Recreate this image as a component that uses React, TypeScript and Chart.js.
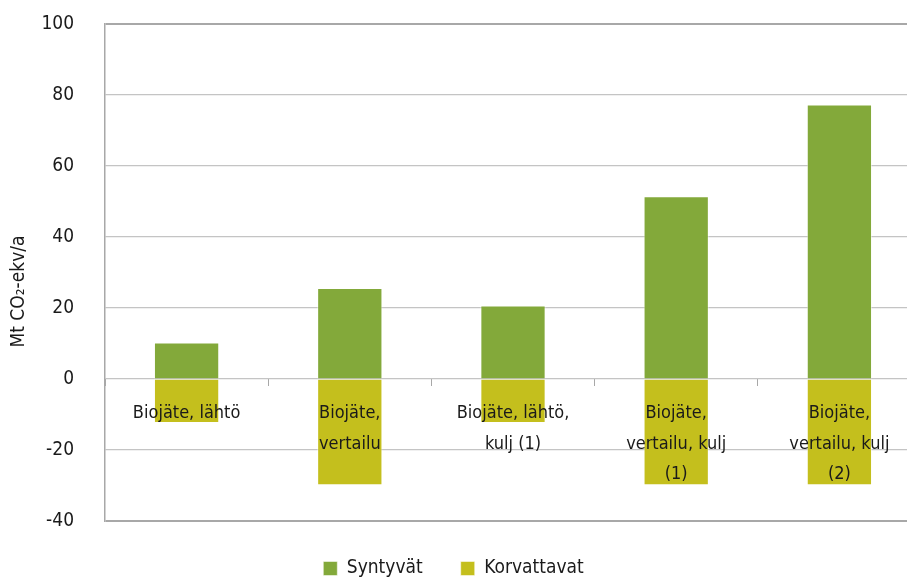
import React, { useEffect, useRef } from "react";
import { Chart, registerables } from "chart.js";

Chart.register(...registerables);

// Scenario categories (multi-line labels are split into arrays)
const categories: (string | string[])[] = [
  "Biojäte, lähtö",
  ["Biojäte,", "vertailu"],
  ["Biojäte, lähtö,", "kulj (1)"],
  ["Biojäte,", "vertailu, kulj", "(1)"],
  ["Biojäte,", "vertailu, kulj", "(2)"],
];

// Emissions generated (Mt CO2-eq/a)
const syntyvat = [10.3, 25.6, 20.7, 51.5, 77.3];
// Avoided / substituted emissions (Mt CO2-eq/a)
const korvattavat = [-12.4, -29.9, -12.4, -29.9, -29.9];

const seriesNames = ["Syntyvät", "Korvattavat"];
const yMin = -40;
const yMax = 100;
const yStep = 20;
const yTitle = "Mt CO₂-ekv/a";

const GREEN = "#83A93A";
const YELLOW = "#C4BF1D";
const GRID = "#c4c4c4";
const FRAME = "#a8a8a8";
const TEXT = "#1a1a1a";
const FONT = "'Liberation Sans Narrow', 'DejaVu Sans Condensed', 'Roboto Condensed', 'Noto Sans', sans-serif";

// Nudges the centred legend to the left so it sits under the visible page
const legendShift = {
  id: "legendShift",
  afterLayout(chart: any) {
    const lg = chart.legend;
    if (lg) {
      lg.left -= 7;
      lg.right -= 7;
    }
  },
};

export default function App() {
  const canvasRef = useRef<HTMLCanvasElement | null>(null);

  useEffect(() => {
    const canvas = canvasRef.current;
    if (!canvas) return;
    const chart = new Chart(canvas, {
      type: "bar",
      data: {
        labels: categories,
        datasets: [
          {
            label: seriesNames[0],
            data: syntyvat,
            backgroundColor: GREEN,
            borderColor: "rgba(255,255,255,0.5)",
            borderWidth: 1,
            barPercentage: 0.4,
            categoryPercentage: 1,
          },
          {
            label: seriesNames[1],
            data: korvattavat,
            backgroundColor: YELLOW,
            borderColor: "rgba(255,255,255,0.5)",
            borderWidth: 1,
            barPercentage: 0.4,
            categoryPercentage: 1,
          },
        ],
      },
      options: {
        animation: false,
        responsive: true,
        maintainAspectRatio: false,
        layout: { padding: { top: 24, right: 0, bottom: 0, left: 0 } },
        scales: {
          x: {
            stacked: true,
            position: { y: 0 } as any,
            afterFit(scale: any) {
              // the axis sits at zero inside the plot, so it needs no outer room
              scale.paddingTop = 0;
              scale.paddingBottom = 0;
            },
            border: { display: false },
            grid: {
              offset: true,
              drawOnChartArea: false,
              drawTicks: true,
              tickLength: 7,
              color: FRAME,
              lineWidth: 1,
            },
            ticks: {
              z: 1,
              color: TEXT,
              padding: 12,
              maxRotation: 0,
              autoSkip: false,
              font: { family: FONT, size: 18, lineHeight: 1.7 },
            },
          },
          y: {
            stacked: true,
            min: yMin,
            max: yMax,
            afterFit(scale: any) {
              scale.width = 105;
              scale.paddingTop = 0;
              scale.paddingBottom = 0;
            },
            border: { display: true, color: FRAME, width: 1.5 },
            grid: {
              drawTicks: false,
              color: (ctx: any) =>
                ctx.tick && (ctx.tick.value === yMax || ctx.tick.value === yMin) ? FRAME : GRID,
              lineWidth: (ctx: any) =>
                ctx.tick && (ctx.tick.value === yMax || ctx.tick.value === yMin) ? 2 : 1.2,
            },
            ticks: {
              stepSize: yStep,
              color: TEXT,
              padding: 31,
              font: { family: FONT, size: 19 },
            },
            title: {
              display: true,
              text: yTitle + "\u00A0".repeat(7),
              color: TEXT,
              padding: { top: 8, bottom: 0 },
              font: { family: FONT, size: 19, lineHeight: 1.2 },
            },
          },
        },
        plugins: {
          legend: {
            position: "bottom",
            labels: {
              color: TEXT,
              boxWidth: 14,
              boxHeight: 14,
              padding: 38,
              font: { family: FONT, size: 19 },
            },
          },
          tooltip: { enabled: false },
        },
      },
      plugins: [legendShift],
    });
    return () => chart.destroy();
  }, []);

  return (
    <div
      style={{
        position: "fixed",
        left: 0,
        top: 0,
        width: 907,
        height: 583,
        overflow: "hidden",
        background: "#ffffff",
      }}
    >
      <div style={{ position: "relative", width: 921, height: 588 }}>
        <canvas ref={canvasRef} />
      </div>
    </div>
  );
}
